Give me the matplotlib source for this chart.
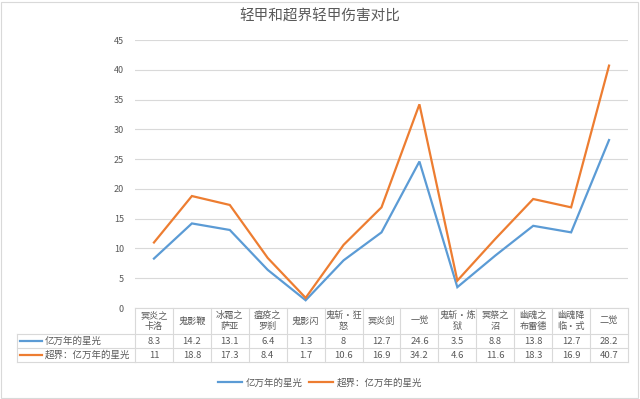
import matplotlib
matplotlib.use("Agg")
from matplotlib import pyplot as plt
from matplotlib.patches import Rectangle
import matplotlib.transforms as mtransforms

plt.rcParams['font.family'] = ['Noto Sans CJK SC', 'DejaVu Sans']

# data
title = "轻甲和超界轻甲伤害对比"
categories = ["冥炎之\n卡洛", "鬼影鞭", "冰霜之\n萨亚", "瘟疫之\n罗刹", "鬼影闪", "鬼斩·狂\n怒", "冥炎剑",
              "一觉", "鬼斩·炼\n狱", "冥祭之\n沼", "幽魂之\n布雷德", "幽魂降\n临·式", "二觉"]
series_names = ["亿万年的星光", "超界：亿万年的星光"]
light = [8.3, 14.2, 13.1, 6.4, 1.3, 8, 12.7, 24.6, 3.5, 8.8, 13.8, 12.7, 28.2]
ultra = [11, 18.8, 17.3, 8.4, 1.7, 10.6, 16.9, 34.2, 4.6, 11.6, 18.3, 16.9, 40.7]
yticks = [0, 5, 10, 15, 20, 25, 30, 35, 40, 45]

colors = ['#5B9BD5', '#ED7D31']
text_c = '#595959'
grid_c = '#D9D9D9'

W, H = 640, 399
fig = plt.figure(figsize=(W / 100, H / 100), dpi=100)

# plot area in pixels
left, right, top, bottom = 135, 628, 40, 308
ax = fig.add_axes([left / W, 1 - bottom / H, (right - left) / W, (bottom - top) / H])

n = len(categories)
x = list(range(n))
lines = []
for vals, c, name in zip([light, ultra], colors, series_names):
    ln, = ax.plot(x, vals, color=c, lw=1.6, label=name, solid_joinstyle='miter')
    lines.append(ln)

ax.set_xlim(-0.5, n - 0.5)
ax.set_ylim(0, 45)
ax.set_yticks(yticks)
ax.set_xticks([])
ax.tick_params(axis='y', length=0, labelsize=6.5, labelcolor=text_c, pad=8)
ax.grid(axis='y', color=grid_c, lw=0.8)
ax.set_axisbelow(True)
for s in ax.spines.values():
    s.set_visible(False)

# table below the plot (x in data coords, y in pixels from top)
def ypix(p):
    return 1 - p / H

trans = mtransforms.blended_transform_factory(ax.transData, fig.transFigure)
row_h = [308, 334, 348, 362]
line_kw = dict(color=grid_c, lw=0.8, transform=trans, clip_on=False)

# category columns
for i in range(n + 1):
    ax.plot([i - 0.5, i - 0.5], [ypix(row_h[0]), ypix(row_h[3])], **line_kw)
for yy in row_h:
    ax.plot([-0.5, n - 0.5], [ypix(yy), ypix(yy)], **line_kw)
for i, cat in enumerate(categories):
    ax.text(i, ypix((row_h[0] + row_h[1]) / 2), cat, transform=trans, ha='center', va='center',
            fontsize=6.6, color=text_c, linespacing=1.3)
    for r, vals in enumerate([light, ultra]):
        ax.text(i, ypix((row_h[r + 1] + row_h[r + 2]) / 2), f"{vals[i]:g}", transform=trans,
                ha='center', va='center', fontsize=6.8, color=text_c)

# series label column (figure pixels)
lab_l = 17
for yy in row_h[1:]:
    fig.add_artist(plt.Line2D([lab_l / W, left / W], [ypix(yy), ypix(yy)], color=grid_c, lw=0.8))
fig.add_artist(plt.Line2D([lab_l / W, lab_l / W], [ypix(row_h[1]), ypix(row_h[3])], color=grid_c, lw=0.8))
for r, (name, c) in enumerate(zip(series_names, colors)):
    ym = ypix((row_h[r + 1] + row_h[r + 2]) / 2)
    fig.add_artist(plt.Line2D([20 / W, 42 / W], [ym, ym], color=c, lw=1.6))
    fig.text(45 / W, ym, name, ha='left', va='center', fontsize=6.8, color=text_c)

fig.text(0.5, ypix(17), title, ha='center', va='center', fontsize=10.5, color=text_c)

fig.legend(handles=lines, loc='center', bbox_to_anchor=(0.5, ypix(383)), ncol=2, frameon=False,
           fontsize=6.8, labelcolor=text_c, handlelength=2.6, columnspacing=0.6, handletextpad=0.4)

fig.add_artist(Rectangle((1 / W, 1 / H), 1 - 3 / W, 1 - 3 / H, transform=fig.transFigure,
                         fill=False, edgecolor=grid_c, lw=0.8))

fig.savefig("out.png", dpi=100, facecolor='white')
